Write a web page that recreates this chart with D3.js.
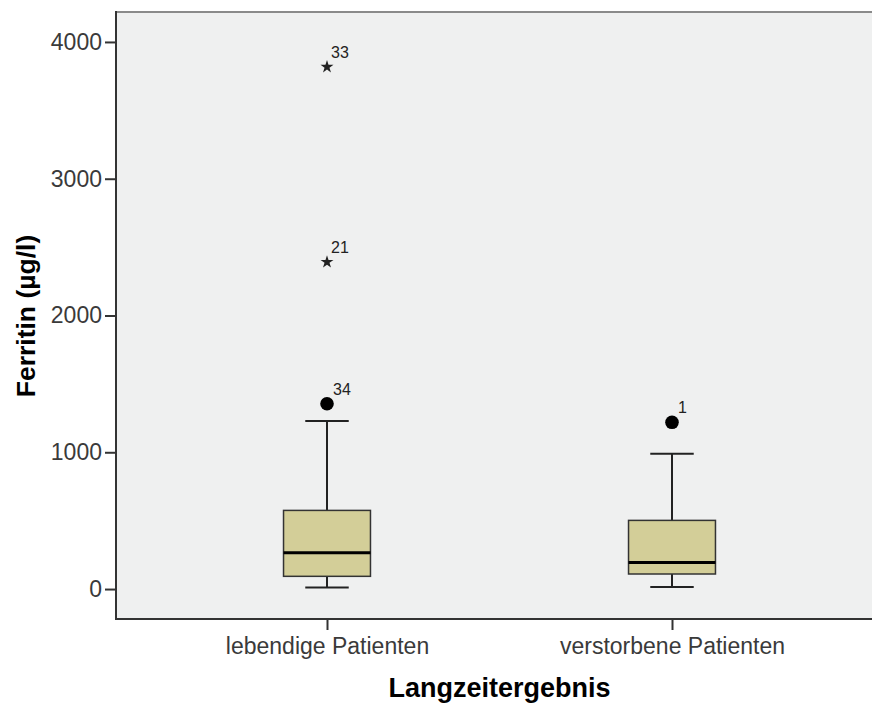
<!DOCTYPE html>
<html>
<head>
<meta charset="utf-8">
<script src="https://cdn.jsdelivr.net/npm/d3@7"></script>
<style>
  html, body { margin: 0; padding: 0; background: #ffffff; }
  svg text { font-family: "Liberation Sans", Arial, sans-serif; }
</style>
</head>
<body>
<svg id="chart" width="872" height="703"></svg>
<script>
// Ferritin by long-term outcome: box plot summary statistics
const categories = ["lebendige Patienten", "verstorbene Patienten"];
const whiskerLow  = [12, 15];
const q1          = [93, 110];
const median      = [265, 195];
const q3          = [575, 502];
const whiskerHigh = [1228, 990];

// Points outside the whiskers: "o" = outlier, "*" = extreme value
const outlierCategory = [0, 0, 0, 1];
const outlierValue    = [3825, 2398, 1355, 1219];
const outlierLabel    = ["33", "21", "34", "1"];
const outlierKind     = ["*", "*", "o", "o"];

const yTicks = [0, 1000, 2000, 3000, 4000];
const yTitle = "Ferritin (µg/l)";
const xTitle = "Langzeitergebnis";

const svg = d3.select("#chart");
const plot = { left: 116, right: 883, top: 12, bottom: 619 };

const x = d3.scalePoint()
  .domain(categories)
  .range([plot.left, plot.right])
  .padding(0.6116);

const y = d3.scaleLinear()
  .domain([-219, 4219])
  .range([plot.bottom, plot.top]);

const boxW = x.step() * 0.252;
const capW = boxW / 2;

// plot background
svg.append("rect")
  .attr("x", plot.left).attr("y", plot.top)
  .attr("width", 872 - plot.left).attr("height", plot.bottom - plot.top)
  .attr("fill", "#eff0f0");

// top frame line
svg.append("line")
  .attr("x1", plot.left).attr("x2", 872)
  .attr("y1", plot.top).attr("y2", plot.top)
  .attr("stroke", "#8a8a8a").attr("stroke-width", 2);

// y axis
const yAxis = d3.axisLeft(y).tickValues(yTicks).tickSize(11).tickPadding(3).tickFormat(d3.format("d"));
const gy = svg.append("g").attr("transform", `translate(${plot.left},0)`).call(yAxis);
gy.select(".domain").remove();
gy.selectAll(".tick line").attr("stroke", "#333").attr("stroke-width", 2);
gy.selectAll(".tick text")
  .attr("fill", "#3a3a3a")
  .style("font-size", "23px")
  .style("font-family", "'Liberation Sans', Arial, sans-serif");

// x axis
const xAxis = d3.axisBottom(x).tickSize(11).tickPadding(8);
const gx = svg.append("g").attr("transform", `translate(0,${plot.bottom})`).call(xAxis);
gx.select(".domain").remove();
gx.selectAll(".tick line").attr("stroke", "#333").attr("stroke-width", 2);
gx.selectAll(".tick text")
  .attr("fill", "#3a3a3a")
  .style("font-size", "23px")
  .style("font-family", "'Liberation Sans', Arial, sans-serif");

// frame: left and bottom
svg.append("line")
  .attr("x1", plot.left).attr("x2", plot.left)
  .attr("y1", plot.top - 1).attr("y2", plot.bottom + 1)
  .attr("stroke", "#333").attr("stroke-width", 2);
svg.append("line")
  .attr("x1", plot.left).attr("x2", 872)
  .attr("y1", plot.bottom).attr("y2", plot.bottom)
  .attr("stroke", "#333").attr("stroke-width", 2);

// boxes
const boxes = svg.append("g");
categories.forEach((c, i) => {
  const cx = x(c);
  const g = boxes.append("g");
  // whisker stems
  g.append("line")
    .attr("x1", cx).attr("x2", cx)
    .attr("y1", y(q3[i])).attr("y2", y(whiskerHigh[i]))
    .attr("stroke", "#222").attr("stroke-width", 2);
  g.append("line")
    .attr("x1", cx).attr("x2", cx)
    .attr("y1", y(q1[i])).attr("y2", y(whiskerLow[i]))
    .attr("stroke", "#222").attr("stroke-width", 2);
  // whisker caps
  [whiskerHigh[i], whiskerLow[i]].forEach(v => {
    g.append("line")
      .attr("x1", cx - capW / 2).attr("x2", cx + capW / 2)
      .attr("y1", y(v)).attr("y2", y(v))
      .attr("stroke", "#222").attr("stroke-width", 2);
  });
  // box
  g.append("rect")
    .attr("x", cx - boxW / 2).attr("y", y(q3[i]))
    .attr("width", boxW).attr("height", y(q1[i]) - y(q3[i]))
    .attr("fill", "#d3ce98").attr("stroke", "#333").attr("stroke-width", 1.5);
  // median
  g.append("line")
    .attr("x1", cx - boxW / 2).attr("x2", cx + boxW / 2)
    .attr("y1", y(median[i])).attr("y2", y(median[i]))
    .attr("stroke", "#000").attr("stroke-width", 3);
});

// outliers and extremes with case labels
const pts = svg.append("g");
outlierValue.forEach((v, i) => {
  const cx = x(categories[outlierCategory[i]]);
  const cy = y(v);
  if (outlierKind[i] === "o") {
    pts.append("circle")
      .attr("cx", cx).attr("cy", cy).attr("r", 6.8)
      .attr("fill", "#000");
  } else {
    pts.append("path")
      .attr("d", d3.symbol().type(d3.symbolStar).size(52)())
      .attr("transform", `translate(${cx},${cy + 1})`)
      .attr("fill", "#222");
  }
  pts.append("text")
    .attr("x", cx + (outlierKind[i] === "o" ? 6 : 4))
    .attr("y", cy + (outlierKind[i] === "o" ? -9 : -8))
    .attr("fill", "#222")
    .style("font-size", "16px")
    .text(outlierLabel[i]);
});

// axis titles
svg.append("text")
  .attr("x", (x(categories[0]) + x(categories[1])) / 2)
  .attr("y", 697)
  .attr("text-anchor", "middle")
  .attr("fill", "#000")
  .style("font-size", "27px")
  .style("font-weight", "bold")
  .text(xTitle);

svg.append("text")
  .attr("transform", `translate(35,316) rotate(-90)`)
  .attr("text-anchor", "middle")
  .attr("fill", "#000")
  .style("font-size", "26.5px")
  .style("font-weight", "bold")
  .text(yTitle);
</script>
</body>
</html>
